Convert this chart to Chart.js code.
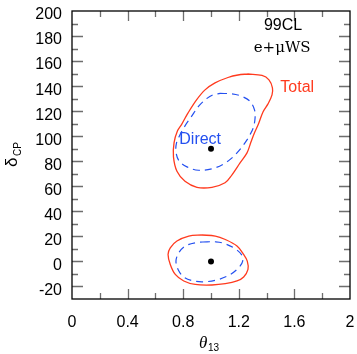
<!DOCTYPE html>
<html>
<head>
<meta charset="utf-8">
<script src="https://cdn.jsdelivr.net/npm/chart.js@4"></script>
<style>
html,body{margin:0;padding:0;background:#fff;}
canvas{display:block;}
</style>
</head>
<body>
<canvas id="c" width="357" height="354"></canvas>
<script>
// ---- data (theta13, deltaCP) ----
const totalUpperTheta = [1.266,1.367,1.417,1.442,1.439,1.410,1.374,1.342,1.313,1.288,1.259,1.209,1.151,1.101,1.007,0.899,0.813,0.755,0.730,0.734,0.759,0.791,0.835,0.896,0.957,1.029,1.122,1.194];
const totalUpperDelta = [149.7,148.5,145.0,138.6,133.0,125.8,119.4,109.9,102.7,95.5,86.7,78.7,69.2,62.8,59.2,59.2,64.0,72.0,83.5,94.7,104.3,109.9,118.6,129.0,137.0,142.6,146.9,148.9];

const directUpperTheta = [1.065,1.151,1.223,1.281,1.313,1.317,1.306,1.288,1.259,1.209,1.151,1.086,1.007,0.910,0.827,0.770,0.748,0.752,0.777,0.813,0.860,0.910,0.971,1.014];
const directUpperDelta = [134.2,133.8,131.8,127.8,121.0,114.6,107.5,102.7,97.1,89.5,82.7,77.5,74.0,72.8,75.5,80.3,87.5,94.7,101.1,108.3,115.8,123.8,130.2,133.0];

const totalLowerTheta = [0.935,0.840,0.755,0.707,0.691,0.707,0.743,0.804,0.887,1.007,1.103,1.187,1.235,1.266,1.261,1.235,1.187,1.103,1.031];
const totalLowerDelta = [21.1,20.3,16.3,10.9,5.6,-2.4,-10.4,-15.6,-18.4,-18.8,-17.8,-15.6,-12.4,-6.4,0.3,5.6,12.3,17.5,20.3];

const directLowerTheta = [0.971,0.887,0.815,0.768,0.748,0.763,0.804,0.876,0.959,1.055,1.139,1.199,1.228,1.218,1.163,1.079,1.031];
const directLowerDelta = [15.7,14.9,12.3,6.9,0.3,-6.4,-12.4,-15.6,-16.2,-14.4,-10.4,-5.0,0.3,5.6,10.9,14.9,15.7];

const bestFitTheta = [1.0, 1.0];
const bestFitDelta = [90, 0];

const xTickLabels = ['0','0.4','0.8','1.2','1.6','2'];
const yTickLabels = ['-20','0','20','40','60','80','100','120','140','160','180','200'];

// ---- helpers ----
function loop(xs, ys){
  const pts = xs.map((x,i)=>({x:x, y:ys[i]}));
  pts.push({x:xs[0], y:ys[0]});
  return pts;
}
const RED = '#ff3a1e';
const BLUE = '#2450f0';

function zeroPad(s){ s.paddingTop = 0; s.paddingBottom = 0; s.paddingLeft = 0; s.paddingRight = 0; }

const decor = {
  id:'decor',
  afterDraw(chart){
    const ctx = chart.ctx, a = chart.chartArea;
    const xs = chart.scales.x, ys = chart.scales.y;
    ctx.save();
    // inward ticks
    ctx.strokeStyle = '#6e6e6e';
    ctx.lineWidth = 1.3;
    ctx.beginPath();
    ys.ticks.forEach(t=>{
      const v = t.value;
      if (v <= ys.min || v >= ys.max) return;
      const major = yTickLabels.indexOf(String(Math.round(v))) >= 0;
      const len = major ? 11 : 6;
      const p = Math.round(ys.getPixelForValue(v)) + 0.5;
      ctx.moveTo(a.left, p); ctx.lineTo(a.left + len, p);
      ctx.moveTo(a.right, p); ctx.lineTo(a.right - len, p);
    });
    xs.ticks.forEach(t=>{
      const v = t.value;
      if (v <= xs.min + 1e-9 || v >= xs.max - 1e-9) return;
      const k = Math.round(v*10);
      const major = k % 4 === 0;
      const len = major ? 10 : 6;
      const p = Math.round(xs.getPixelForValue(v)) + 0.5;
      ctx.moveTo(p, a.bottom); ctx.lineTo(p, a.bottom - len);
      ctx.moveTo(p, a.top); ctx.lineTo(p, a.top + len);
    });
    ctx.stroke();
    // frame
    ctx.strokeStyle = '#000';
    ctx.lineWidth = 1.3;
    ctx.strokeRect(a.left, a.top, a.right - a.left, a.bottom - a.top);

    // annotations
    ctx.textAlign = 'center';
    ctx.textBaseline = 'middle';
    ctx.fillStyle = '#000';
    ctx.font = '16px "Liberation Sans", Arial, sans-serif';
    ctx.fillText('99CL', xs.getPixelForValue(1.518), ys.getPixelForValue(188.5));
    ctx.font = '15px "DejaVu Serif", serif';
    ctx.fillText('e+\u03BCWS', xs.getPixelForValue(1.512), ys.getPixelForValue(170.5));
    ctx.fillStyle = RED;
    ctx.font = '16px "Liberation Sans", Arial, sans-serif';
    ctx.fillText('Total', xs.getPixelForValue(1.62), ys.getPixelForValue(138.5));
    ctx.fillStyle = BLUE;
    ctx.fillText('Direct', xs.getPixelForValue(0.922), ys.getPixelForValue(97));

    // axis titles
    ctx.fillStyle = '#000';
    ctx.textAlign = 'left';
    ctx.textBaseline = 'alphabetic';
    ctx.font = 'italic 17px "Liberation Serif", serif';
    ctx.fillText('\u03B8', 199, 348);
    ctx.font = '10px "Liberation Sans", Arial, sans-serif';
    ctx.fillText('13', 208, 351);
    ctx.translate(17, 167);
    ctx.rotate(-Math.PI/2);
    ctx.font = '17px "Liberation Sans", Arial, sans-serif';
    ctx.fillText('\u03B4', 0, 0);
    ctx.font = '10px "Liberation Sans", Arial, sans-serif';
    ctx.fillText('CP', 11, 4);
    ctx.restore();
  }
};

new Chart(document.getElementById('c'), {
  type: 'scatter',
  data: {
    datasets: [
      {label:'Total', data: loop(totalUpperTheta, totalUpperDelta), showLine:true, borderColor:RED, borderWidth:1.3, pointRadius:0, tension:0.35, fill:false},
      {label:'Total', data: loop(totalLowerTheta, totalLowerDelta), showLine:true, borderColor:RED, borderWidth:1.3, pointRadius:0, tension:0.35, fill:false},
      {label:'Direct', data: loop(directUpperTheta, directUpperDelta), showLine:true, borderColor:BLUE, borderWidth:1.2, borderDash:[7,5], pointRadius:0, tension:0.35, fill:false},
      {label:'Direct', data: loop(directLowerTheta, directLowerDelta), showLine:true, borderColor:BLUE, borderWidth:1.2, borderDash:[7,5], pointRadius:0, tension:0.35, fill:false},
      {label:'Best fit', data: bestFitTheta.map((x,i)=>({x:x, y:bestFitDelta[i]})), showLine:false, pointRadius:3, pointBackgroundColor:'#000', pointBorderColor:'#000', pointBorderWidth:0}
    ]
  },
  options: {
    responsive:false,
    devicePixelRatio:1,
    animation:false,
    layout:{padding:{left:0, right:7, top:11, bottom:0}},
    plugins:{legend:{display:false}, tooltip:{enabled:false}},
    scales:{
      x:{
        type:'linear', min:0, max:2,
        afterFit(s){ s.height = 55; zeroPad(s); },
        grid:{display:false, drawTicks:false},
        border:{display:false},
        ticks:{
          stepSize:0.2, padding:14, color:'#000', maxRotation:0, autoSkip:false,
          font:{family:'"Liberation Sans", Arial, sans-serif', size:16},
          callback(v){
            const k = Math.round(v*10);
            if (k % 4 !== 0) return '';
            const s = (k/10).toString();
            return xTickLabels.indexOf(s) >= 0 ? s : '';
          }
        }
      },
      y:{
        type:'linear', min:-30, max:200,
        afterFit(s){ s.width = 72; zeroPad(s); },
        grid:{display:false, drawTicks:false},
        border:{display:false},
        ticks:{
          stepSize:10, padding:10, color:'#000', labelOffset:4, autoSkip:false,
          font:{family:'"Liberation Sans", Arial, sans-serif', size:16},
          callback(v){
            const s = String(Math.round(v));
            return yTickLabels.indexOf(s) >= 0 ? s : '';
          }
        }
      }
    }
  },
  plugins:[decor]
});
</script>
</body>
</html>
